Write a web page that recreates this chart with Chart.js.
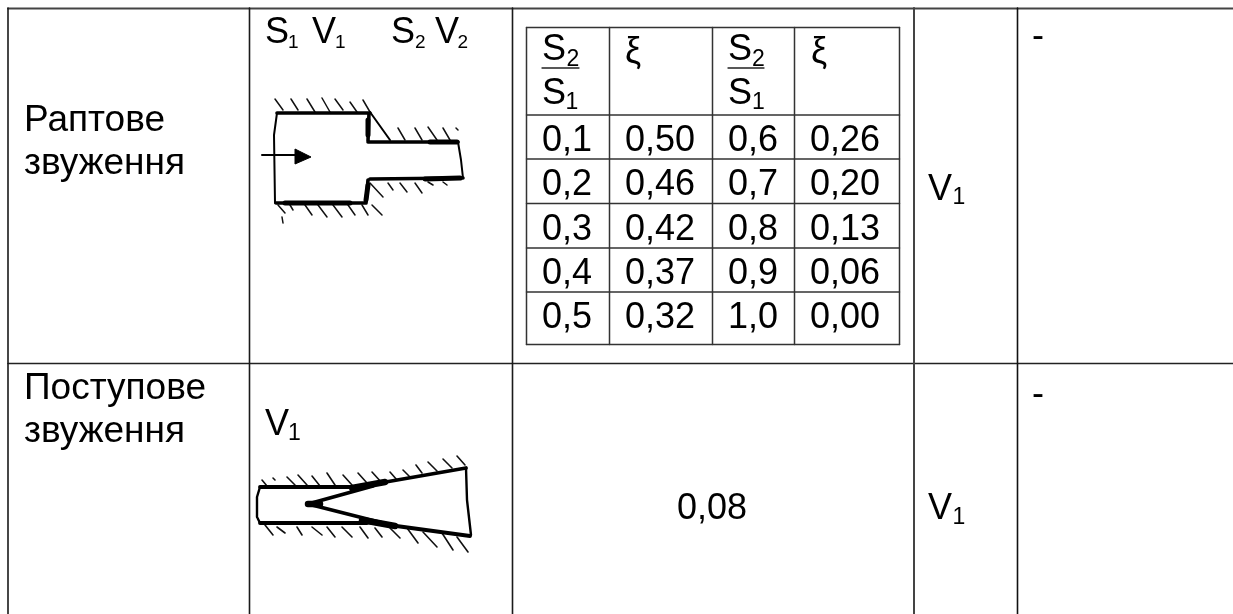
<!DOCTYPE html>
<html>
<head>
<meta charset="utf-8">
<title>Раптове та поступове звуження</title>
<script src="https://cdn.jsdelivr.net/npm/chart.js@4"></script>
<style>
  html, body { margin: 0; padding: 0; background: #fff; overflow: hidden; }
  canvas { display: block; }
</style>
</head>
<body>
<canvas id="graphic" width="1233" height="614"></canvas>
<script>
// table values
const ratioLeft = ['0,1', '0,2', '0,3', '0,4', '0,5'];
const lossLeft = ['0,50', '0,46', '0,42', '0,37', '0,32'];
const ratioRight = ['0,6', '0,7', '0,8', '0,9', '1,0'];
const lossRight = ['0,26', '0,20', '0,13', '0,06', '0,00'];
const rowTitles = [['Раптове', 'звуження'], ['Поступове', 'звуження']];
const taperLoss = '0,08';

// table rules, in picture units
const outerCols = [8, 249.5, 512.5, 914, 1017.5];
const outerRows = [8.5, 363.5];
const innerCols = [526.5, 609.5, 712.5, 794.5, 899.5];
const innerRows = [27.5, 115, 159, 203.5, 248, 292, 344.5];
const innerBaselines = [151, 195, 239.5, 284, 328];
const innerTextX = [542, 625, 728, 810];

// sudden contraction sketch
const suddenWalls = [
  [277, 113, 370, 113], [369, 113, 368, 141], [368, 142, 458, 142],
  [276, 203, 365, 203], [366, 203, 368, 180], [370, 179, 463, 178]
];
const suddenHeavy = [
  [368, 120, 368, 135], [285, 203, 350, 203], [366, 200, 368, 185], [430, 142, 457, 142], [425, 179, 460, 178]
];
const suddenThin = [
  [277, 113, 274, 135], [274, 135, 275, 203], [458, 142, 461, 160],
  [461, 160, 463, 178], [370, 112, 390, 140], [262, 155, 297, 155]
];
const suddenHatch = [
  [275, 99, 283, 110], [291, 99, 298, 110], [307, 99, 315, 112], [322, 98, 330, 112],
  [335, 99, 343, 110], [350, 102, 357, 112], [363, 100, 370, 112],
  [398, 128, 405, 140], [415, 128, 422, 140], [428, 127, 437, 140], [443, 128, 450, 140], [456, 128, 458, 130],
  [370, 183, 383, 197], [388, 183, 393, 190], [400, 183, 407, 192], [415, 183, 422, 193], [428, 182, 433, 185], [443, 182, 447, 185],
  [278, 205, 285, 213], [290, 205, 293, 210], [305, 205, 312, 215], [318, 205, 327, 217], [333, 205, 342, 217],
  [348, 205, 355, 215], [362, 205, 368, 215], [372, 205, 382, 215], [282, 217, 283, 223]
];
const arrowHead = [[295, 149], [311, 157], [295, 164], [295, 149]];

// gradual contraction sketch
const taperWalls = [
  [260, 487, 357, 487], [357, 487, 466, 468], [260, 523, 367, 523], [367, 522, 470, 536],
  [308, 504, 373, 486], [308, 504, 387, 524]
];
const taperHeavy = [
  [308, 504, 320, 504], [352, 488, 385, 482], [362, 520, 395, 526]
];
const taperThin = [
  [260, 487, 257, 497], [257, 497, 257, 517], [257, 517, 260, 523],
  [466, 468, 467, 500], [467, 500, 471, 535]
];
const taperHatch = [
  [262, 480, 267, 486], [273, 478, 275, 480], [287, 477, 295, 485], [298, 475, 307, 485],
  [312, 476, 320, 486], [327, 473, 335, 485], [343, 475, 352, 485], [358, 473, 367, 483],
  [372, 472, 382, 483], [390, 472, 397, 480], [403, 470, 410, 477], [416, 465, 422, 473],
  [428, 462, 437, 471], [443, 459, 452, 468], [457, 456, 465, 465],
  [265, 525, 273, 535], [277, 527, 285, 533], [297, 527, 302, 535], [312, 527, 322, 535],
  [327, 527, 335, 537], [342, 527, 352, 537], [360, 527, 368, 538], [375, 528, 382, 537],
  [390, 528, 400, 538], [407, 528, 418, 543], [423, 532, 437, 547], [442, 533, 453, 550], [457, 537, 468, 552]
];

const fontFamily = '"Liberation Sans", Arial, sans-serif';

// [text, x, baseline]
const bigLabels = [
  ['S', 265, 43], ['V', 312, 43], ['S', 391, 43], ['V', 435, 43],
  ['S', 542, 60], ['S', 542, 104], ['S', 728, 60], ['S', 728, 104],
  ['ξ', 625, 63], ['ξ', 811, 63],
  ['V', 265, 435], ['V', 928, 200], ['V', 928, 519],
  ['-', 1032, 47], ['-', 1032, 405],
  [taperLoss, 677, 519]
];
const titleLabels = [
  [rowTitles[0][0], 24, 131], [rowTitles[0][1], 24, 174],
  [rowTitles[1][0], 24, 399], [rowTitles[1][1], 24, 442]
];
const headSubs = [['1', 288, 47.5], ['1', 335, 47.5], ['2', 415, 47.5], ['2', 457.5, 47.5]];
const smallLabels = [
  ['2', 566.5, 66], ['1', 565.5, 109], ['2', 752, 66], ['1', 752, 109],
  ['1', 288, 440], ['1', 952.5, 204], ['1', 952.5, 524]
];

function segments(list) {
  return list.flatMap(s => [{ x: s[0], y: s[1] }, { x: s[2], y: s[3] }, { x: null, y: null }]);
}

function lines(list, color, width) {
  return { data: segments(list), borderColor: color, borderWidth: width, showLine: true, pointRadius: 0, spanGaps: false, borderCapStyle: 'round' };
}

const columns = [ratioLeft, lossLeft, ratioRight, lossRight];

const tableText = {
  id: 'tableText',
  afterDatasetsDraw(chart) {
    const { ctx, scales } = chart;
    const put = (t, x, y) => ctx.fillText(t, scales.x.getPixelForValue(x), scales.y.getPixelForValue(y));
    ctx.save();
    ctx.fillStyle = '#000';
    ctx.textBaseline = 'alphabetic';
    ctx.textAlign = 'left';
    ctx.font = '36px ' + fontFamily;
    bigLabels.forEach(l => put(l[0], l[1], l[2]));
    columns.forEach((col, c) => col.forEach((v, r) => put(v, innerTextX[c], innerBaselines[r])));
    ctx.font = '37px ' + fontFamily;
    titleLabels.forEach(l => put(l[0], l[1], l[2]));
    ctx.font = '23px ' + fontFamily;
    smallLabels.forEach(l => put(l[0], l[1], l[2]));
    ctx.font = '19px ' + fontFamily;
    headSubs.forEach(l => put(l[0], l[1], l[2]));
    ctx.restore();
  }
};

const datasets = [
  lines(outerCols.slice(0, 3).map(x => [x, 8, x, 614]), '#1a1a1a', 1.6),
  lines([[914, 8, 914, 614]], '#444', 2),
  lines([[1017.5, 8, 1017.5, 614]], '#111', 1.6),
  lines([[8, 8.5, 1233, 8.5]], '#444', 2),
  lines([[8, 363.5, 1233, 363.5]], '#222', 1.6),
  lines(innerCols.map(x => [x, 27.5, x, 344.5]), '#333', 1.5),
  lines(innerRows.map(y => [526.5, y, 899.5, y]), '#333', 1.5),
  lines([[542, 68, 579, 68], [728, 68, 764, 68]], '#222', 1.3),
  lines(suddenWalls, '#000', 3.6),
  lines(suddenHeavy, '#000', 5),
  lines(suddenThin, '#000', 2),
  lines(suddenHatch, '#111', 1.5),
  { data: arrowHead.map(p => ({ x: p[0], y: p[1] })), showLine: true, pointRadius: 0, borderColor: '#000', borderWidth: 1, backgroundColor: '#000', fill: 'shape' },
  lines(taperWalls, '#000', 3.8),
  lines(taperHeavy, '#000', 6.5),
  lines(taperThin, '#000', 2.4),
  lines(taperHatch, '#111', 1.6)
];

new Chart(document.getElementById('graphic'), {
  type: 'scatter',
  data: { datasets },
  plugins: [tableText],
  options: {
    responsive: false,
    animation: false,
    layout: { padding: 0 },
    plugins: { legend: { display: false }, tooltip: { enabled: false } },
    scales: {
      x: { type: 'linear', min: 0, max: 1233, display: false },
      y: { type: 'linear', min: 0, max: 614, reverse: true, display: false }
    }
  }
});
</script>
</body>
</html>
